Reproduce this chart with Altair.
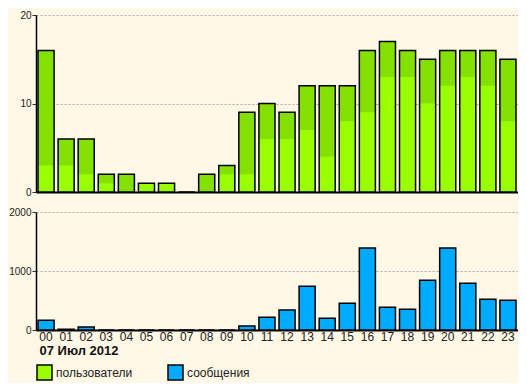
import altair as alt
import pandas as pd

hours = ["00", "01", "02", "03", "04", "05", "06", "07", "08", "09", "10", "11",
         "12", "13", "14", "15", "16", "17", "18", "19", "20", "21", "22", "23"]
users_total = [16, 6, 6, 2, 2, 1, 1, 0, 2, 3, 9, 10, 9, 12, 12, 12, 16, 17, 16, 15, 16, 16, 16, 15]
users_light = [3, 3, 2, 1, 0, 1, 1, 0, 0, 2, 2, 6, 6, 7, 4, 8, 9, 13, 13, 10, 12, 13, 12, 8]
messages = [165, 12, 51, 0, 0, 0, 0, 0, 0, 0, 68, 215, 340, 742, 198, 453, 1388, 385, 351,
            844, 1388, 793, 521, 504]
series_names = ["пользователи", "сообщения"]
date_label = "07 Июл 2012"

df = pd.DataFrame({"hour": hours, "total": users_total, "light": users_light, "msgs": messages})

BG = "#fff8e6"
W = 482

color = alt.Color(
    "series:N",
    scale=alt.Scale(domain=series_names, range=["#99ff00", "#00aaff"]),
    legend=alt.Legend(
        title=None, orient="bottom", direction="horizontal",
        symbolType="square", symbolSize=225, symbolStrokeColor="black",
        symbolStrokeWidth=1.5, symbolOpacity=1, labelFontSize=12, labelColor="#222",
        labelFont="Liberation Sans", columnPadding=32, labelOffset=3, offset=7,
    ),
)

def xscale():
    return alt.Scale(paddingInner=0.2, paddingOuter=0.1)

yaxis_common = dict(title=None, tickSize=4, labelPadding=1, labelFontSize=10,
                    labelColor="#222", labelFont="Liberation Sans", tickColor="#333",
                    domainColor="black", domainWidth=1.5, gridColor="#aaaaaa",
                    gridDash=[2, 2], gridWidth=1, maxExtent=27, minExtent=27, format="d")

x_top = alt.X("hour:N", sort=hours, scale=xscale(),
              axis=alt.Axis(labels=False, ticks=False, title=None, domainColor="black",
                            domainWidth=2, grid=False, minExtent=0, maxExtent=1))
y_top_axis = alt.Axis(values=[0, 10, 20], **yaxis_common)

base = alt.Chart(df)
dark = base.mark_bar(color="#84e000").encode(
    x=x_top, y=alt.Y("total:Q", scale=alt.Scale(domain=[0, 20]), axis=y_top_axis))
light = base.transform_calculate(series="'пользователи'").mark_bar().encode(
    x=x_top, y=alt.Y("light:Q", title=None), color=color)
outline = base.mark_bar(fillOpacity=0, stroke="black", strokeWidth=1.5).encode(
    x=x_top, y=alt.Y("total:Q", title=None))
top = alt.layer(dark, light, outline).properties(width=W, height=177)

bottom = base.transform_calculate(series="'сообщения'").mark_bar(
    stroke="black", strokeWidth=1.5).encode(
    x=alt.X("hour:N", sort=hours, scale=xscale(),
            axis=alt.Axis(title=date_label, titleAnchor="start", titleAlign="left",
                          titleFontWeight="bold", titleFontSize=13, titleColor="#111",
                          titleFont="Liberation Sans", titlePadding=2, titleX=3,
                          labelAngle=0, ticks=False, labelPadding=1, labelFontSize=12,
                          labelColor="#222", labelFont="Liberation Sans",
                          domainColor="black", domainWidth=2, grid=False)),
    y=alt.Y("msgs:Q", scale=alt.Scale(domain=[0, 2000]),
            axis=alt.Axis(values=[0, 1000, 2000], **yaxis_common)),
    color=color,
).properties(width=W, height=118)

chart = alt.vconcat(top, bottom, spacing=10).properties(
    background=BG, padding={"left": 0, "top": 2, "right": 0, "bottom": 0}
).configure_view(stroke=None)

chart.save("out.html", embed_options={"renderer": "svg", "actions": False})
